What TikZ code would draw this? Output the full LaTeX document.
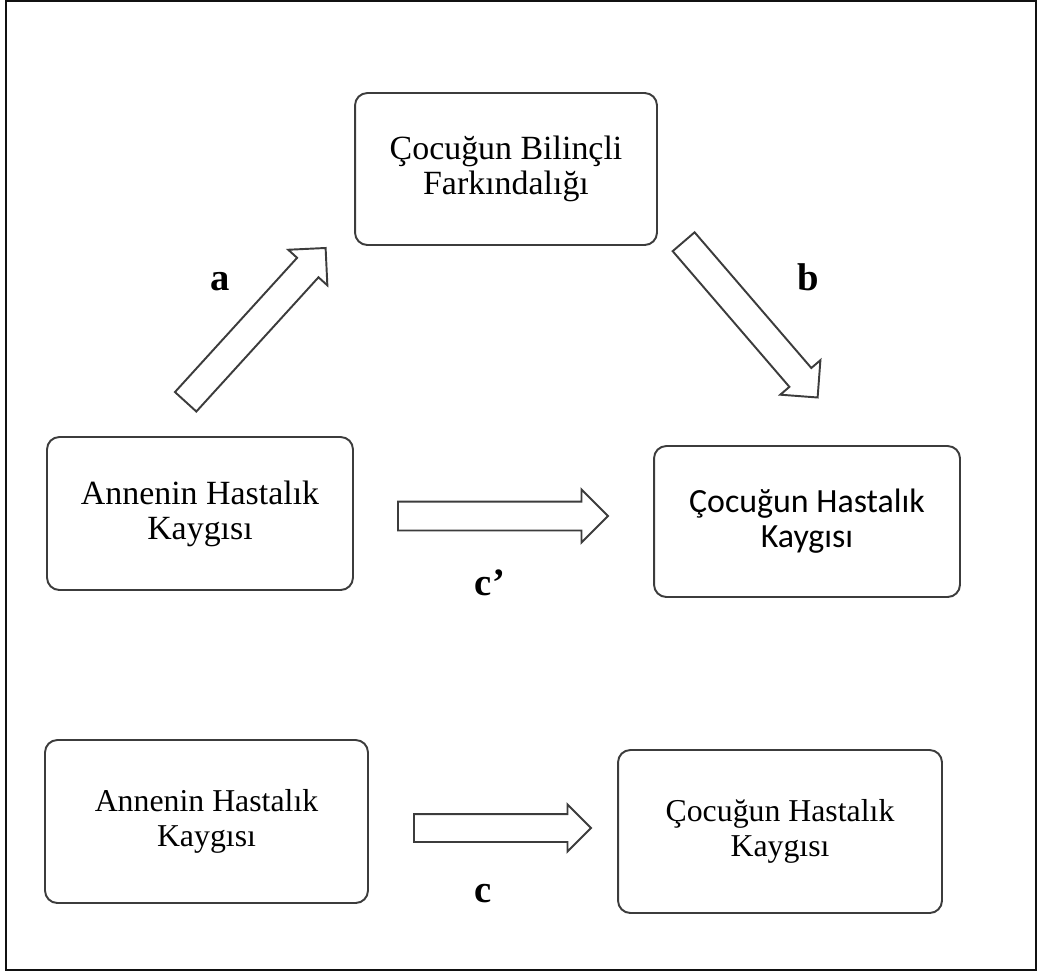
\documentclass[tikz,border=0pt]{standalone}
\usepackage{fontspec}
\setmainfont{Liberation Serif}
\newfontfamily\calibrifont{Carlito}
\usetikzlibrary{shapes.arrows}
\definecolor{boxline}{HTML}{3C3C3C}
\definecolor{framecolor}{HTML}{111111}

\tikzset{
  varbox/.style={draw=boxline, line width=1.1pt, rounded corners=7pt, align=center, inner sep=0pt},
  bigbox/.style={varbox, font=\fontsize{19.3}{19.8}\selectfont},
  lowbox/.style={varbox, font=\fontsize{18.1}{20.2}\selectfont},
  blockarrow/.style={draw=boxline, line width=1.1pt, single arrow, single arrow tip angle=90,
    inner xsep=0pt, inner ysep=0.27cm, single arrow head extend=0.24cm, anchor=tail},
  pathlabel/.style={font=\fontsize{22}{22}\selectfont\bfseries, anchor=base}
}

\begin{document}
\begin{tikzpicture}[x=0.02cm, y=-0.02cm]

  % Canvas and outer frame
  \useasboundingbox (0, 0) rectangle (1040, 974);
  \draw[framecolor, line width=1.3pt] (6, 1) rectangle (1036, 970);

  % Mediation model
  \node[bigbox, minimum width=6.04cm, minimum height=3.04cm] (aware) at (506, 169)
    {Çocuğun Bilinçli\\Farkındalığı};
  \node[bigbox, minimum width=6.12cm, minimum height=3.06cm] (mother) at (200, 513.5)
    {Annenin Hastalık\\Kaygısı};
  \node[bigbox, minimum width=6.12cm, minimum height=3.02cm] (child) at (807, 521.5)
    {\calibrifont Çocuğun Hastalık\\\calibrifont Kaygısı};

  % Paths a, b and c'
  \node[blockarrow, minimum height=4.16cm, rotate=47.7] (arrA) at (185, 402.5) {};
  \node[blockarrow, minimum height=4.11cm, rotate=-49.3] (arrB) at (683, 241) {};
  \node[blockarrow, minimum height=4.2cm] (arrCp) at (397, 516) {};
  \node[pathlabel] (labA) at (220, 290) {a};
  \node[pathlabel] (labB) at (808, 290) {b};
  \node[pathlabel] (labCp) at (490, 595) {c’};

  % Total effect
  \node[lowbox, minimum width=6.46cm, minimum height=3.26cm] (motherT) at (206.5, 821.5)
    {Annenin Hastalık\\Kaygısı};
  \node[lowbox, minimum width=6.48cm, minimum height=3.26cm] (childT) at (780, 831.5)
    {Çocuğun Hastalık\\Kaygısı};
  \node[blockarrow, minimum height=3.54cm, inner ysep=0.26cm, single arrow head extend=0.19cm]
    (arrC) at (413, 828) {};
  \node[pathlabel] (labC) at (483, 902) {c};

\end{tikzpicture}
\end{document}
